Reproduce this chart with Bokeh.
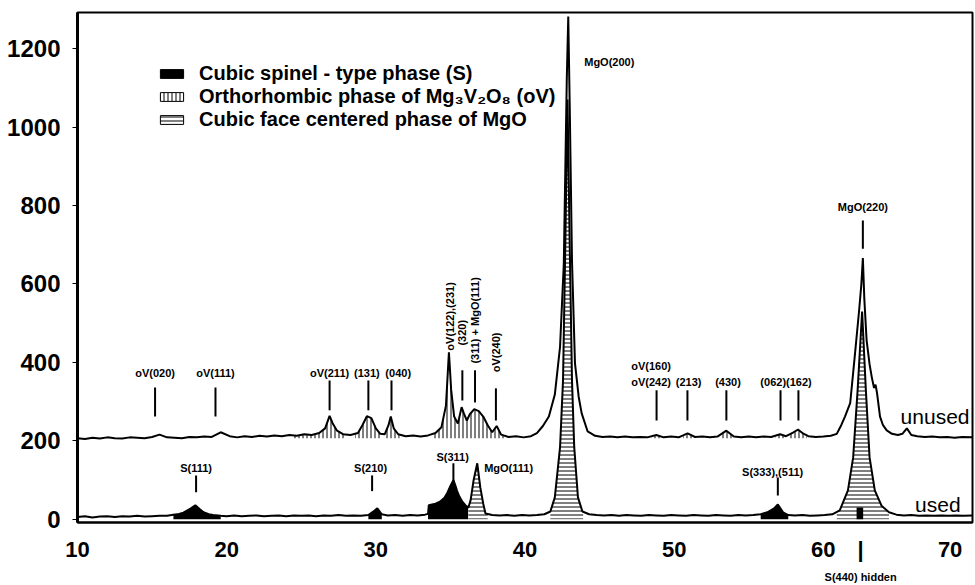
import numpy as np
from bokeh.plotting import figure
from bokeh.models import Range1d, FixedTicker, Legend, LegendItem, LinearAxis, ColumnDataSource
from bokeh.core.properties import value
from bokeh.embed import file_html
from bokeh.resources import INLINE

FONT = "Liberation Sans"

# ---------------- data ----------------
unused_x = [10.0, 10.5, 11.0, 11.5, 12.0, 12.5, 13.0, 13.5, 14.0, 14.5, 15.0, 15.5, 16.0, 16.5, 17.0, 17.5,
            18.0, 18.5, 19.0, 19.6, 20.2, 20.7, 21.2, 21.7, 22.2, 22.7, 23.2, 23.7, 24.2, 24.7, 25.2, 25.7,
            26.2, 26.6, 26.9, 27.1, 27.4, 27.8, 28.3, 28.8, 29.1, 29.4, 29.7, 30.0, 30.3, 30.6, 30.85, 31.0,
            31.2, 31.5, 32.0, 32.5, 33.0, 33.5, 34.0, 34.4, 34.7, 34.9, 35.05, 35.25, 35.5, 35.75, 35.9, 36.1,
            36.3, 36.6, 36.9, 37.2, 37.5, 37.8, 38.1, 38.4, 38.9, 39.4, 39.9, 40.4, 40.8, 41.2, 41.6, 42.0,
            42.35, 42.6, 42.8, 42.9, 43.0, 43.15, 43.35, 43.6, 43.8, 44.2, 44.7, 45.2, 45.7, 46.2, 46.7, 47.2,
            47.7, 48.2, 48.8, 49.3, 49.8, 50.3, 50.9, 51.4, 51.9, 52.4, 52.9, 53.5, 54.0, 54.5, 55.0, 55.5,
            56.0, 56.5, 57.1, 57.5, 58.0, 58.3, 58.6, 59.0, 59.5, 60.0, 60.5, 60.9, 61.2, 61.45, 61.8, 62.1,
            62.4, 62.55, 62.65, 62.75, 62.9, 63.1, 63.25, 63.4, 63.5, 63.6, 63.8, 64.0, 64.25, 64.6, 65.0, 65.3,
            65.6, 65.9, 66.3, 66.8, 67.3, 67.8, 68.3, 68.8, 69.3, 70.0]
unused_y = [207, 205, 208, 206, 209, 207, 206, 209, 208, 207, 210, 216, 209, 208, 207, 210,
            209, 211, 210, 222, 212, 209, 212, 210, 213, 211, 214, 212, 215, 213, 217, 215,
            220, 232, 264, 245, 226, 217, 215, 220, 240, 263, 258, 232, 218, 217, 240, 262,
            232, 217, 212, 214, 211, 214, 220, 235, 290, 426, 330, 262, 244, 286, 270, 252,
            268, 281, 276, 262, 240, 222, 238, 216, 210, 212, 209, 212, 220, 238, 262, 318,
            440, 650, 1120, 1282, 1050, 660, 398, 312, 270, 224, 213, 210, 211, 209, 211, 209,
            210, 209, 215, 209, 211, 209, 219, 210, 211, 209, 211, 226, 211, 209, 211, 209,
            211, 210, 217, 212, 222, 229, 220, 212, 210, 211, 213, 218, 240, 262, 296, 413,
            533, 600, 666, 560, 457, 395, 362, 335, 343, 322, 262, 240, 227, 218, 215, 218,
            232, 215, 212, 210, 211, 209, 210, 208, 210, 209]

used_x = [10.0, 10.5, 11.0, 11.5, 12.0, 12.5, 13.0, 13.5, 14.0, 14.5, 15.0, 15.5, 16.0, 16.43, 16.8, 17.1,
          17.6, 17.9, 18.2, 18.45, 18.8, 19.1, 19.6, 20.0, 20.5, 21.0, 21.5, 22.0, 22.5, 23.0, 23.5, 24.0,
          24.5, 25.0, 25.5, 26.0, 26.5, 27.0, 27.5, 28.0, 28.5, 29.0, 29.5, 29.9, 30.1, 30.4, 30.8, 31.3,
          31.8, 32.3, 32.8, 33.3, 33.5, 33.55, 34.0, 34.3, 34.6, 34.8, 35.0, 35.2, 35.3, 35.45, 35.6, 35.8,
          36.0, 36.2, 36.35, 36.55, 36.8, 37.0, 37.2, 37.35, 37.8, 38.3, 38.8, 39.3, 39.8, 40.3, 40.8, 41.3,
          41.7, 42.0, 42.35, 42.55, 42.7, 42.85, 43.0, 43.15, 43.3, 43.55, 43.85, 44.3, 44.8, 45.3, 45.8, 46.3,
          46.8, 47.3, 47.8, 48.3, 48.8, 49.3, 49.8, 50.3, 50.8, 51.3, 51.8, 52.3, 52.8, 53.3, 53.8, 54.3,
          54.8, 55.3, 55.8, 56.25, 56.7, 56.95, 57.3, 57.65, 58.1, 58.6, 59.1, 59.6, 60.1, 60.6, 61.1, 61.65,
          62.0, 62.3, 62.6, 62.85, 63.1, 63.45, 63.9, 64.4, 64.9, 65.4, 65.9, 66.4, 66.9, 67.4, 67.9, 68.4,
          68.9, 69.4, 70.0]
used_y = [6, 8, 5, 7, 8, 6, 8, 7, 9, 7, 8, 9, 9, 12, 14, 17,
          28, 36, 26, 18, 13, 11, 9, 8, 10, 8, 9, 10, 8, 9, 10, 8,
          10, 9, 10, 8, 10, 9, 11, 9, 10, 9, 11, 22, 28, 13, 10, 11,
          9, 11, 10, 12, 14, 36, 40, 45, 55, 68, 85, 100, 90, 72, 58, 45,
          36, 30, 48, 99, 143, 82, 40, 15, 11, 10, 11, 9, 11, 10, 11, 13,
          20, 56, 184, 355, 695, 1070, 695, 355, 184, 56, 20, 13, 11, 10, 11, 9,
          11, 10, 9, 11, 10, 9, 11, 10, 9, 11, 10, 9, 11, 10, 9, 11,
          10, 11, 13, 18, 28, 38, 18, 11, 10, 11, 9, 10, 11, 13, 23, 74,
          158, 330, 530, 330, 158, 74, 35, 18, 12, 10, 11, 9, 10, 9, 10, 9,
          10, 9, 10]

unused_base = 207
used_base = 0

# phase ranges (2theta)
spinel_ranges = [(16.43, 19.6), (29.5, 30.4), (33.5, 36.2), (55.8, 57.65)]
ov_ranges = [(24.5, 28.0), (28.6, 30.4), (30.6, 31.6), (33.8, 38.6), (48.5, 49.1),
             (50.6, 51.2), (53.2, 53.9), (56.8, 57.4), (57.7, 58.9)]
mgo_ranges = [(36.2, 37.5), (41.7, 43.9), (60.9, 64.4)]
s440_pos, s440_height = 62.45, 30

y_ticks = [0, 200, 400, 600, 800, 1000, 1200]
x_ticks = [10, 20, 30, 40, 50, 60, 62.5, 68.5]
x_tick_text = {62.5: "|", 68.5: "70"}
hidden_tick = [62.5]
hidden_text = {62.5: "S(440) hidden"}

legend_labels = ["Cubic spinel - type phase (S)",
                 "Orthorhombic phase of Mg\u2083V\u2082O\u2088 (oV)",
                 "Cubic face centered phase of MgO"]

# peak markers
mk_x = [15.2, 19.25, 26.9, 29.5, 31.05, 35.8, 36.65, 38.05, 48.82, 50.89, 53.5, 57.13, 58.33, 62.65,
        17.95, 29.75, 35.2, 56.95]
mk_y0 = [336, 336, 354, 354, 354, 380, 380, 334, 329, 329, 329, 329, 329, 762,
         112, 112, 143, 107]
mk_y1 = [262, 262, 278, 278, 278, 303, 298, 252, 252, 252, 252, 252, 252, 690,
         69, 72, 90, 61]

lab_x = [15.2, 19.25, 26.9, 29.4, 31.5, 48.45, 48.45, 50.97, 53.61, 57.5, 45.65, 62.65,
         17.95, 29.65, 35.15, 38.9, 56.6]
lab_y = [372, 372, 372, 372, 372, 390, 349, 349, 349, 349, 1167, 795,
         130, 130, 160, 130, 122]
lab_t = ["oV(020)", "oV(111)", "oV(211)", "(131)", "(040)", "oV(160)", "oV(242)", "(213)", "(430)",
         "(062)(162)", "MgO(200)", "MgO(220)",
         "S(111)", "S(210)", "S(311)", "MgO(111)", "S(333),(511)"]

rot_x = [34.98, 35.8, 36.68, 38.08]
rot_y = [430, 443, 397, 375]
rot_t = ["oV(122),(231)", "(320)", "(311) + MgO(111)", "oV(240)"]


def region_poly(xs, ys, lo, hi, base):
    xs = np.asarray(xs, dtype=float)
    ys = np.asarray(ys, dtype=float)
    inside = (xs > lo) & (xs < hi)
    px = np.concatenate([[lo], xs[inside], [hi]])
    py = np.concatenate([[np.interp(lo, xs, ys)], ys[inside], [np.interp(hi, xs, ys)]])
    py = np.maximum(py, base)
    return (list(np.concatenate([px, px[::-1]])),
            list(np.concatenate([py, np.full(len(px), float(base))])))


def polys(xs, ys, ranges, base):
    px, py = [], []
    for lo, hi in ranges:
        a, b = region_poly(xs, ys, lo, hi, base)
        px.append(a)
        py.append(b)
    return px, py


# ---------------- figure ----------------
p = figure(width=975, height=585, x_range=Range1d(10, 70), y_range=Range1d(-8, 1292),
           output_backend="svg", toolbar_location=None,
           min_border_left=77, min_border_right=3, min_border_top=12, min_border_bottom=63)
p.grid.visible = False
p.outline_line_color = "black"
p.outline_line_width = 2
p.background_fill_color = "white"
p.border_fill_color = "white"

hatch_v = dict(fill_color="white", hatch_pattern="vertical_line", hatch_color="black",
               hatch_scale=4, hatch_weight=1)
hatch_h = dict(fill_color="white", hatch_pattern="horizontal_line", hatch_color="black",
               hatch_scale=4, hatch_weight=1)

sx, sy = polys(used_x, used_y, spinel_ranges, used_base)
p.patches(sx, sy, fill_color="black", line_color=None)

ox, oy = polys(unused_x, unused_y, ov_ranges, unused_base)
p.patches(ox, oy, line_color=None, **hatch_v)

mx, my = polys(used_x, used_y, mgo_ranges, used_base)
p.patches(mx, my, line_color=None, **hatch_h)

p.quad(left=[s440_pos - 0.22], right=[s440_pos + 0.22], bottom=[used_base], top=[s440_height],
       fill_color="black", line_color=None)

p.line(unused_x, unused_y, line_color="black", line_width=2)
p.line(used_x, used_y, line_color="black", line_width=2)

p.segment(x0=mk_x, y0=mk_y0, x1=mk_x, y1=mk_y1, line_color="black", line_width=2)

p.text(x=lab_x, y=lab_y, text=lab_t, text_font=value(FONT), text_font_style="bold",
       text_font_size="11px", text_align="center", text_baseline="middle", text_color="black")
p.text(x=rot_x, y=rot_y, text=rot_t, angle=np.pi / 2, text_font=value(FONT), text_font_style="bold",
       text_font_size="11px", text_align="left", text_baseline="middle", text_color="black")

p.text(x=[69.8], y=[262], text=["unused"], text_font=value(FONT), text_font_size="21px",
       text_align="right", text_baseline="alphabetic", text_color="black")
p.text(x=[69.2], y=[38], text=["used"], text_font=value(FONT), text_font_size="21px",
       text_align="right", text_baseline="alphabetic", text_color="black")

# legend swatches: renderers holding one undrawn (NaN) box, used only by the legend
nan_box = ColumnDataSource(data=dict(left=[np.nan], right=[np.nan], top=[np.nan], bottom=[np.nan]))
lg_s = p.quad(left="left", right="right", top="top", bottom="bottom", source=nan_box,
              fill_color="black", line_color="black", line_width=1)
lg_o = p.quad(left="left", right="right", top="top", bottom="bottom", source=nan_box,
              line_color="black", line_width=1, **hatch_v)
lg_m = p.quad(left="left", right="right", top="top", bottom="bottom", source=nan_box,
              line_color="black", line_width=1, **hatch_h)

# axes
p.yaxis.ticker = FixedTicker(ticks=y_ticks)
p.xaxis.ticker = FixedTicker(ticks=x_ticks)
p.xaxis.major_label_overrides = x_tick_text
for ax in (p.xaxis, p.yaxis):
    ax.major_label_text_font = FONT
    ax.major_label_text_font_style = "bold"
    ax.major_label_text_color = "black"
    ax.minor_tick_line_color = None
    ax.axis_line_color = "black"
p.yaxis.major_label_text_font_size = "24px"
p.xaxis.major_label_text_font_size = "22px"
p.yaxis.axis_line_width = 3
p.yaxis.major_tick_out = 5
p.yaxis.major_tick_in = 0
p.yaxis.major_label_standoff = 12
p.xaxis.axis_line_width = 2
p.xaxis.major_tick_out = 0
p.xaxis.major_tick_in = 0
p.xaxis.major_label_standoff = 14

ax2 = LinearAxis(ticker=FixedTicker(ticks=hidden_tick), major_label_overrides=hidden_text,
                 axis_line_color=None, major_tick_line_color=None, minor_tick_line_color=None,
                 major_label_standoff=0, major_label_text_font=FONT,
                 major_label_text_font_style="bold", major_label_text_font_size="11px",
                 major_label_text_color="black")
p.add_layout(ax2, "below")

legend = Legend(items=[LegendItem(label=legend_labels[0], renderers=[lg_s]),
                       LegendItem(label=legend_labels[1], renderers=[lg_o]),
                       LegendItem(label=legend_labels[2], renderers=[lg_m])],
                location=(80, 391), label_text_font=FONT, label_text_font_size="20px",
                label_text_font_style="bold", label_text_color="black",
                glyph_width=29, glyph_height=11,
                label_standoff=13, padding=0, margin=0, spacing=0,
                border_line_color=None, background_fill_alpha=0)
p.add_layout(legend)

open("out.html", "w").write(file_html(p, INLINE))
